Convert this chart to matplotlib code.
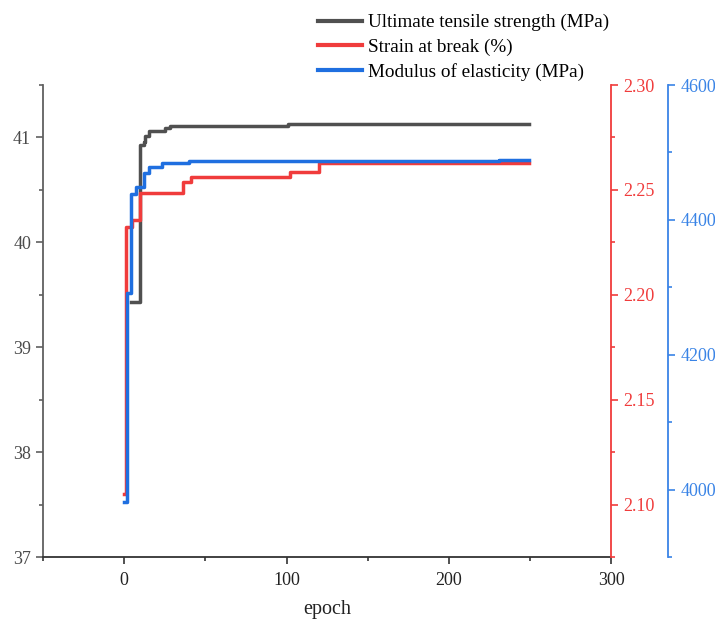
import matplotlib
matplotlib.use("Agg")
import matplotlib.pyplot as plt
from matplotlib.ticker import MultipleLocator

plt.rcParams['font.family'] = ['Liberation Serif', 'DejaVu Serif']

# best-so-far values, listed at the epochs where they change
uts_epoch = [4, 10, 12, 13, 15, 25, 28, 71, 101, 249]
uts = [39.43, 40.93, 40.96, 41.01, 41.064, 41.095, 41.105, 41.11, 41.125, 41.125]

strain_epoch = [0, 1, 5, 10, 36, 41, 102, 120, 249]
strain = [2.105, 2.2325, 2.2357, 2.2487, 2.2539, 2.2563, 2.2584, 2.2627, 2.2627]

modulus_epoch = [0, 2, 4, 7, 12, 15, 23, 40, 213, 231, 249]
modulus = [3982, 4291, 4439, 4449, 4469, 4478, 4484, 4487, 4488, 4489, 4489]

labels = ['Ultimate tensile strength (MPa)', 'Strain at break (%)',
          'Modulus of elasticity (MPa)']

c_black = '#505050'
c_red = '#f03c3c'
c_blue = '#1f6fe0'

fig = plt.figure(figsize=(7.15, 6.22), dpi=100)
ax = fig.add_axes([0.0601, 0.1045, 0.795, 0.7588])
ax2 = ax.twinx()
ax3 = ax.twinx()
ax3.spines['right'].set_position(('axes', 1.1003))

l1, = ax.plot(uts_epoch, uts, drawstyle='steps-post', color=c_black, lw=2.5)
l2, = ax2.plot(strain_epoch, strain, drawstyle='steps-post', color=c_red, lw=2.5)
l3, = ax3.plot(modulus_epoch, modulus, drawstyle='steps-post', color=c_blue, lw=2.5)

ax.set_xlim(-50, 300)
ax.set_ylim(37, 41.5)
ax2.set_ylim(2.075, 2.30)
ax3.set_ylim(3900, 4600)

ax.xaxis.set_major_locator(MultipleLocator(100))
ax.xaxis.set_minor_locator(MultipleLocator(50))
ax.yaxis.set_major_locator(MultipleLocator(1))
ax.yaxis.set_minor_locator(MultipleLocator(0.5))
ax2.yaxis.set_major_locator(MultipleLocator(0.05))
ax2.yaxis.set_minor_locator(MultipleLocator(0.025))
ax2.yaxis.set_major_formatter(matplotlib.ticker.FormatStrFormatter('%.2f'))
ax3.yaxis.set_major_locator(MultipleLocator(200))
ax3.yaxis.set_minor_locator(MultipleLocator(100))

for a in (ax, ax2, ax3):
    a.spines['top'].set_visible(False)
ax.spines['right'].set_visible(False)
for a in (ax2, ax3):
    a.spines['left'].set_visible(False)
    a.spines['bottom'].set_visible(False)

ax.spines['left'].set_color('#606060')
ax.spines['bottom'].set_color('#333333')
ax.spines['left'].set_linewidth(1.3)
ax.spines['bottom'].set_linewidth(1.3)
ax2.spines['right'].set_color(c_red)
ax3.spines['right'].set_color('#3a84e6')
ax2.spines['right'].set_linewidth(1.3)
ax3.spines['right'].set_linewidth(1.3)

ax.tick_params(axis='x', which='major', length=5, width=1.2, colors='#333333',
               labelsize=13, labelcolor='#222222', pad=6)
ax.tick_params(axis='x', which='minor', length=3, width=1.2, colors='#333333')
ax.tick_params(axis='y', which='major', length=5, width=1.2, colors='#606060',
               labelsize=13, labelcolor='#4a4a4a')
ax.tick_params(axis='y', which='minor', length=3, width=1.2, colors='#606060')
ax2.tick_params(axis='y', which='major', length=5, width=1.2, colors=c_red,
                labelsize=13)
ax2.tick_params(axis='y', which='minor', length=3, width=1.2, colors=c_red)
ax3.tick_params(axis='y', which='major', length=5, width=1.2, colors='#3a84e6',
                labelsize=13)
ax3.tick_params(axis='y', which='minor', length=3, width=1.2, colors='#3a84e6')

ax.set_xlabel('epoch', fontsize=14.5, color='#222222', labelpad=8)

leg = fig.legend([l1, l2, l3], labels, loc='upper left',
                 bbox_to_anchor=(318 / 715, 1 - 14 / 622), frameon=False,
                 fontsize=13.8, handlelength=2.3, handletextpad=0.3,
                 borderpad=0, borderaxespad=0, labelspacing=0.37)
for h in leg.get_lines():
    h.set_linewidth(3)

fig.savefig('out.png', dpi=100)
